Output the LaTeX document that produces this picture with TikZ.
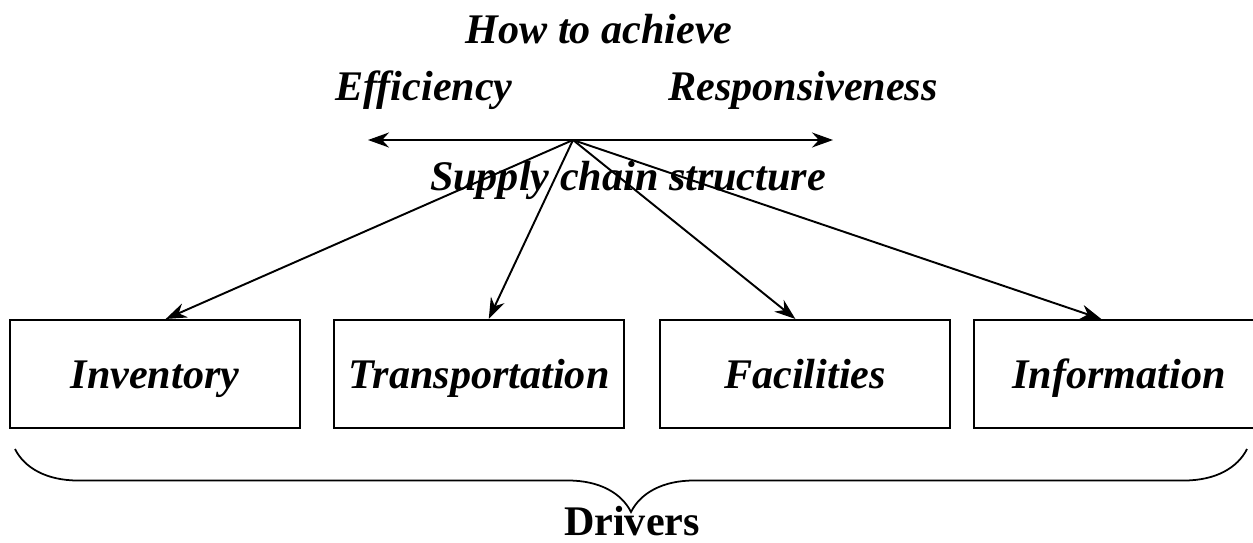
\documentclass[tikz,border=0pt]{standalone}
\usepackage{fontspec}
\setmainfont{Liberation Serif}
\usetikzlibrary{arrows.meta, positioning, decorations.pathreplacing}

\begin{document}
\begin{tikzpicture}[>={Stealth[length=0.42cm, width=0.3cm]}, x=0.02cm, y=-0.02cm,
  font=\fontsize{24}{28}\selectfont\bfseries\itshape,
  driver/.style={draw, line width=1.2pt, minimum width=5.8cm, minimum height=2.16cm,
    inner sep=0pt, text height=17pt, text depth=0pt},
  link/.style={->, line width=1.1pt}]
\useasboundingbox (0,0) rectangle (1253,542);
% headings
\node[anchor=base] (how) at (599,43) {How to achieve};
\node[anchor=base] (eff) at (424,100) {Efficiency};
\node[anchor=base] (resp) at (803,100) {Responsiveness};
\node[anchor=base] (struct) at (628,190) {Supply chain structure};
\coordinate (hub) at (573,140);
\coordinate (eff end) at (368,140);
\coordinate (resp end) at (833,140);
\draw[<->, line width=1.1pt] (eff end) -- (resp end);
%
\node[driver] (inv) at (155,374) {Inventory};
\node[driver, right=0.64cm of inv] (trans) {Transportation};
\node[driver, right=0.68cm of trans] (fac) {Facilities};
\node[driver, right=0.44cm of fac] (info) {Information};
\draw[link] (hub) -- (inv.79);
\draw[link] (hub) -- (trans.80);
\draw[link] (hub) -- (fac.100);
\draw[link] (hub) -- (info.108);
% drivers brace
\coordinate (brace left) at (15,449);
\coordinate (brace right) at (1247,449);
\draw[decorate, decoration={brace, mirror, amplitude=1.26cm}, line width=1pt] (brace left) -- (brace right);
\node[anchor=base, font=\fontsize{24}{28}\selectfont\bfseries] (drivers) at (632,535) {Drivers};
\end{tikzpicture}
\end{document}
